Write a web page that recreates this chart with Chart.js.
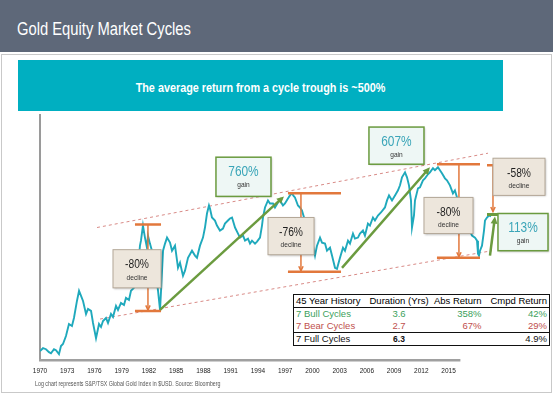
<!DOCTYPE html>
<html>
<head>
<meta charset="utf-8">
<script src="https://cdn.jsdelivr.net/npm/chart.js@4.4.0/dist/chart.umd.min.js"></script>
<style>
    body { margin: 0; width: 553px; height: 394px; position: relative; overflow: hidden; background: #fff; }
    #head { position: absolute; left: 0; top: 0; width: 553px; height: 52px; background: #5e6879; }
    #head span { position: absolute; left: 17px; top: 20px; color: #fff; font: 18px/18px "Liberation Sans", sans-serif;
                 transform: scaleX(0.82); transform-origin: left; white-space: nowrap; }
    #panel { position: absolute; left: 1px; top: 54px; width: 549px; height: 337px; border: 1px solid #c9c9c9; }
    #banner { position: absolute; left: 18px; top: 60px; width: 485px; height: 51px; background: #00afc1; }
    #banner span { position: absolute; left: 0; width: 485px; top: 21px; text-align: center; color: #fff;
                   font: bold 12.5px/14px "Liberation Sans", sans-serif; transform: scaleX(0.865); white-space: nowrap; }
    #wrap { position: absolute; left: 0; top: 0; width: 553px; height: 394px; }
    #note { position: absolute; left: 35px; top: 380px; color: #555; font: 6.3px/8px "Liberation Sans", sans-serif;
            white-space: nowrap; transform: scaleX(0.84); transform-origin: left; }
    #stats { position: absolute; left: 293px; top: 294px; width: 256px; border-collapse: collapse; background: #fff;
             border: 1.5px solid #111; font: 9.5px "Liberation Sans", sans-serif; table-layout: fixed; }
    #stats td { padding: 0 2px; height: 12px; line-height: 12px; white-space: nowrap; overflow: visible; }
    #stats td:nth-child(2) { text-align: center; }
    #stats td:nth-child(3), #stats td:nth-child(4) { text-align: right; }
    #stats tr:first-child td { border-bottom: 1.5px solid #111; }
    #stats tr:last-child td { border-top: 1px solid #111; }
</style>
</head>
<body>
<div id="head"><span>Gold Equity Market Cycles</span></div>
<div id="panel"></div>
<div id="banner"><span>The average return from a cycle trough is ~500%</span></div>
<div id="wrap"><canvas id="goldChart"></canvas></div>
<table id="stats">
    <colgroup><col style="width:74px"><col style="width:63px"><col style="width:53px"><col style="width:66px"></colgroup>
</table>
<div id="note">Log chart represents S&amp;P/TSX Global Gold Index in $USD. Source: Bloomberg</div>

<script>
// S&P/TSX Global Gold Index (log chart)
const years = [
    1970.00, 1970.33, 1970.66, 1970.99, 1971.21, 1971.54, 1971.76, 1972.09, 1972.31, 1972.53,
    1972.86, 1973.19, 1973.52, 1973.74, 1974.07, 1974.30, 1974.52, 1974.74, 1975.07, 1975.29,
    1975.62, 1975.84, 1976.17, 1976.50, 1976.72, 1976.94, 1977.27, 1977.49, 1977.82, 1978.04,
    1978.37, 1978.59, 1978.92, 1979.25, 1979.47, 1979.80, 1980.02, 1980.35, 1980.57, 1980.79,
    1981.01, 1981.12, 1981.34, 1981.56, 1981.78, 1981.89, 1982.11, 1982.33, 1982.66, 1983.00,
    1983.22, 1983.33, 1983.55, 1983.77, 1983.99, 1984.32, 1984.54, 1984.87, 1985.20, 1985.42,
    1985.75, 1985.97, 1986.30, 1986.74, 1987.07, 1987.29, 1987.62, 1987.95, 1988.17, 1988.39,
    1988.61, 1988.72, 1988.94, 1989.27, 1989.49, 1989.82, 1990.15, 1990.37, 1990.70, 1990.92,
    1991.15, 1991.48, 1991.81, 1992.03, 1992.36, 1992.58, 1992.91, 1993.13, 1993.35, 1993.68,
    1993.90, 1994.23, 1994.45, 1994.56, 1994.78, 1995.11, 1995.33, 1995.66, 1995.88, 1996.21,
    1996.43, 1996.76, 1996.98, 1997.31, 1997.53, 1997.75, 1997.97, 1998.08, 1998.41, 1998.63,
    1998.85, 1999.18, 1999.51, 1999.74, 1999.96, 2000.29, 2000.51, 2000.84, 2001.06, 2001.39,
    2001.61, 2001.94, 2002.16, 2002.49, 2002.71, 2003.04, 2003.37, 2003.59, 2003.92, 2004.14,
    2004.47, 2004.69, 2005.02, 2005.24, 2005.57, 2005.79, 2006.12, 2006.34, 2006.67, 2006.89,
    2007.22, 2007.55, 2007.99, 2008.22, 2008.44, 2008.77, 2009.10, 2009.43, 2009.65, 2009.87,
    2010.20, 2010.42, 2010.64, 2010.86, 2010.97, 2011.19, 2011.30, 2011.52, 2011.63, 2011.85,
    2012.18, 2012.40, 2012.73, 2012.95, 2013.28, 2013.50, 2013.83, 2014.05, 2014.27, 2014.60,
    2014.82, 2015.15, 2015.48, 2015.70, 2016.03, 2016.26, 2016.58, 2016.92, 2017.25, 2017.58,
    2017.91, 2018.13, 2018.24, 2018.35, 2018.46, 2018.68, 2018.90, 2019.01, 2019.23, 2019.45, 2019.67
];
const goldIndex = [
    13.0, 14.1, 13.7, 12.6, 12.2, 13.7, 13.3, 11.9, 15.0, 15.9,
    20.0, 28.2, 26.6, 33.5, 54.6, 72.9, 63.1, 54.6, 37.6, 43.4,
    41.0, 29.0, 18.8, 28.2, 25.9, 30.7, 33.5, 29.0, 37.6, 34.5,
    47.3, 42.2, 51.6, 48.7, 59.6, 56.2, 72.9, 79.4, 97.2, 141,
    266, 307, 473, 335, 251, 355, 282, 230, 150, 72.9,
    42.2, 72.9, 230, 282, 335, 290, 230, 266, 141, 163,
    112, 130, 188, 230, 200, 188, 266, 335, 447, 668,
    841, 772, 596, 546, 473, 410, 434, 501, 546, 579,
    596, 447, 376, 335, 355, 307, 325, 282, 307, 282,
    299, 335, 473, 596, 794, 972, 891, 891, 794, 917,
    972, 841, 891, 1029, 1122, 1189, 1090, 1059, 841, 794,
    729, 546, 473, 410, 307, 200, 266, 335, 290, 282,
    230, 251, 200, 141, 137, 188, 251, 230, 307, 282,
    376, 325, 335, 376, 410, 355, 501, 473, 596, 546,
    631, 688, 794, 972, 1122, 972, 1122, 1296, 1497, 1883,
    2175, 1883, 1497, 972, 447, 631, 972, 1223, 1373, 1413,
    1728, 1830, 2053, 2175, 2441, 2304, 2512, 2304, 2113, 1830,
    1728, 1497, 1189, 1296, 972, 841, 688, 546, 434, 355,
    335, 307, 211, 200, 230, 266, 410, 546, 596, 631, 613
];
const tickYears = [1970, 1973, 1976, 1979, 1982, 1985, 1988, 1991, 1994, 1997, 2000, 2003, 2006, 2009, 2012, 2015];

// cycle table
const cycleNames = ['7 Bull Cycles', '7 Bear Cycles', '7 Full Cycles'];
const durations = ['3.6', '2.7', '6.3'];
const absReturns = ['358%', '67%', ''];
const cmpdReturns = ['42%', '29%', '4.9%'];

// markings, in years and index levels
const channelLines = [
    {from: [1976.28, 447], to: [2019.34, 3758]},
    {from: [1976.61, 32.5], to: [2019.78, 230]}
];
const declines = [
    {from: 1980.46, to: 1983.33, at: 1981.89, peak: 487, trough: 41, label: '-80%', box: [1978.04, 1983.33, 237, 79.4]},
    {from: 1997.31, to: 2003.15, at: 1998.74, peak: 1189, trough: 126, label: '-76%', box: [1995.11, 2000.18, 596, 205]},
    {from: 2013.72, to: 2018.46, at: 2016.14, peak: 2739, trough: 188, label: '-80%', box: [2012.29, 2017.69, 1059, 376]},
    {from: 2019.23, to: 2019.89, at: 2019.89, peak: 2661, trough: 688, label: '-58%', box: [2019.89, 2025.62, 3254, 1122], open: true}
];
const gains = [
    {from: [1983.22, 42.2], to: [1996.87, 1090], label: '760%', box: [1989.38, 1995.44, 3350, 1090]},
    {from: [2003.26, 141], to: [2012.95, 2512], label: '607%', box: [2006.23, 2012.29, 7943, 2739]},
    {from: [2019.56, 200], to: [2020.11, 613], label: '113%', box: [2020.44, 2025.95, 668, 230]}
];
const latestBase = {from: 2019.23, to: 2020.66, level: 649};

const table = document.getElementById('stats');
const headRow = table.insertRow();
['45 Year History', 'Duration (Yrs)', 'Abs Return', 'Cmpd Return'].forEach(t => { headRow.insertCell().textContent = t; });
const rowColors = ['#3c9f5c', '#c0504d', '#111'];
cycleNames.forEach((name, i) => {
    const row = table.insertRow();
    row.style.color = rowColors[i];
    [name, durations[i], absReturns[i], cmpdReturns[i]].forEach(t => { row.insertCell().textContent = t; });
    if (i === 2) { row.cells[1].style.fontWeight = 'bold'; row.cells[1].style.fontSize = '8.5px'; }
});

const orange = '#e2783c';
const green = '#6b9b3f';

function arrowHead(ctx, x1, y1, x2, y2, len, filled) {
    const a = Math.atan2(y2 - y1, x2 - x1);
    ctx.beginPath();
    ctx.moveTo(x2 - len * Math.cos(a - 0.45), y2 - len * Math.sin(a - 0.45));
    ctx.lineTo(x2, y2);
    ctx.lineTo(x2 - len * Math.cos(a + 0.45), y2 - len * Math.sin(a + 0.45));
    if (filled) { ctx.closePath(); ctx.fill(); } else { ctx.stroke(); }
}

// Arial Narrow look-alike: squeeze Liberation Sans
function narrowText(ctx, text, cx, cy, font, color) {
    ctx.save();
    ctx.translate(cx, cy);
    ctx.scale(0.82, 1);
    ctx.font = font;
    ctx.fillStyle = color;
    ctx.textAlign = 'center';
    ctx.textBaseline = 'middle';
    ctx.fillText(text, 0, 0);
    ctx.restore();
}

function drawBox(ctx, x0, y0, x1, y1, fill, stroke, lw, label, labelFont, labelColor, sub) {
    ctx.save();
    ctx.shadowColor = 'rgba(0,0,0,0.25)';
    ctx.shadowBlur = 2;
    ctx.shadowOffsetX = 1;
    ctx.shadowOffsetY = 1;
    ctx.fillStyle = fill;
    ctx.fillRect(x0, y0, x1 - x0, y1 - y0);
    ctx.restore();
    ctx.strokeStyle = stroke;
    ctx.lineWidth = lw;
    ctx.strokeRect(x0, y0, x1 - x0, y1 - y0);
    const cx = (x0 + x1) / 2;
    narrowText(ctx, label, cx, y0 + 15, labelFont, labelColor);
    ctx.save();
    ctx.fillStyle = '#333';
    ctx.font = '6.6px "Liberation Sans"';
    ctx.textAlign = 'center';
    ctx.textBaseline = 'middle';
    ctx.fillText(sub, cx, y0 + 28);
    ctx.restore();
}

const cycleMarks = {
    id: 'cycleMarks',
    beforeDatasetsDraw(chart) {
        const {ctx, scales: {x, y}} = chart;
        ctx.save();
        // axis line along the bottom, up to 2016
        ctx.strokeStyle = '#a0a0a0';
        ctx.lineWidth = 2.5;
        ctx.beginPath();
        ctx.moveTo(x.left - 1, y.bottom);
        ctx.lineTo(x.getPixelForValue(2016.3), y.bottom);
        ctx.stroke();
        // trend channel
        ctx.strokeStyle = '#d88a86';
        ctx.lineWidth = 1;
        ctx.setLineDash([3, 3]);
        channelLines.forEach(l => {
            ctx.beginPath();
            ctx.moveTo(x.getPixelForValue(l.from[0]), y.getPixelForValue(l.from[1]));
            ctx.lineTo(x.getPixelForValue(l.to[0]), y.getPixelForValue(l.to[1]));
            ctx.stroke();
        });
        ctx.restore();
    },
    afterDatasetsDraw(chart) {
        const {ctx, scales: {x, y}} = chart;
        const px = v => x.getPixelForValue(v);
        const py = v => y.getPixelForValue(v);
        ctx.save();

        declines.forEach(d => {
            ctx.strokeStyle = orange;
            ctx.lineWidth = 2.5;
            ctx.beginPath();
            ctx.moveTo(px(d.from), py(d.peak));
            ctx.lineTo(px(d.to), py(d.peak));
            if (!d.open) {
                ctx.moveTo(px(d.from), py(d.trough));
                ctx.lineTo(px(d.to), py(d.trough));
            }
            ctx.stroke();
            ctx.lineWidth = 1.5;
            ctx.beginPath();
            ctx.moveTo(px(d.at), py(d.peak));
            ctx.lineTo(px(d.at), py(d.trough) - 1);
            ctx.stroke();
            arrowHead(ctx, px(d.at), py(d.peak), px(d.at), py(d.trough) - 1, 5, false);
        });

        ctx.strokeStyle = green;
        ctx.fillStyle = green;
        ctx.lineWidth = 3;
        ctx.beginPath();
        ctx.moveTo(px(latestBase.from), py(latestBase.level));
        ctx.lineTo(px(latestBase.to), py(latestBase.level));
        ctx.stroke();
        gains.forEach(g => {
            const x1 = px(g.from[0]), y1 = py(g.from[1]);
            const x2 = px(g.to[0]), y2 = py(g.to[1]);
            const a = Math.atan2(y2 - y1, x2 - x1);
            ctx.lineWidth = 2.5;
            ctx.beginPath();
            ctx.moveTo(x1, y1);
            ctx.lineTo(x2 - 3 * Math.cos(a), y2 - 3 * Math.sin(a));
            ctx.stroke();
            arrowHead(ctx, x1, y1, x2, y2, 8, true);
        });

        declines.forEach(d => {
            const b = d.box;
            drawBox(ctx, px(b[0]), py(b[2]), px(b[1]), py(b[3]), '#ede6dc', '#b3a797', 1,
                d.label, '12.5px "Liberation Sans"', '#1e1e1e', 'decline');
        });
        gains.forEach(g => {
            const b = g.box;
            drawBox(ctx, px(b[0]), py(b[2]), px(b[1]), py(b[3]), '#eef7f5', green, 1.5,
                g.label, '14.5px "Liberation Sans"', '#3aa5b8', 'gain');
        });
        ctx.restore();
    }
};

const ctx = document.getElementById('goldChart').getContext('2d');

new Chart(ctx, {
    type: 'line',
    data: {
        datasets: [{
            label: 'S&P/TSX Global Gold Index',
            data: years.map((yr, i) => ({x: yr, y: goldIndex[i]})),
            borderColor: '#1fa9bc',
            borderWidth: 1.9,
            pointRadius: 0,
            tension: 0
        }]
    },
    options: {
        responsive: true,
        maintainAspectRatio: false,
        animation: false,
        layout: {padding: {left: 40, top: 115, right: 3, bottom: 12}},
        plugins: {
            legend: {display: false},
            tooltip: {enabled: false}
        },
        scales: {
            x: {
                type: 'linear',
                min: 1970,
                max: 2026.17,
                grid: {display: false, drawTicks: false},
                border: {display: false},
                afterBuildTicks: s => { s.ticks = tickYears.map(v => ({value: v})); },
                ticks: {
                    autoSkip: false,
                    maxRotation: 0,
                    padding: 7,
                    color: '#222',
                    font: {family: 'Liberation Sans', size: 6.5},
                    callback: v => String(v)
                }
            },
            y: {
                type: 'logarithmic',
                min: 10,
                max: 11220,
                grid: {display: false, drawTicks: false},
                ticks: {display: false},
                border: {color: '#9a9a9a', width: 2}
            }
        }
    },
    plugins: [cycleMarks]
});
</script>
</body>
</html>
